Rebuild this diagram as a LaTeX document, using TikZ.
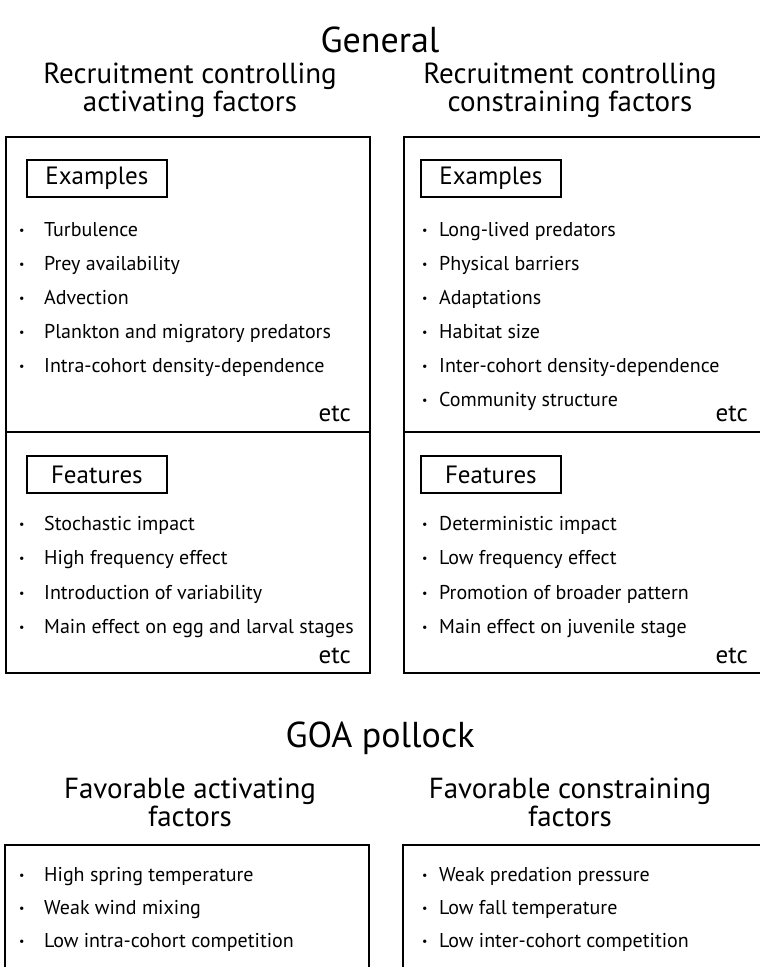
\documentclass[tikz,border=0pt]{standalone}
\usepackage{fontspec}
\setmainfont{PT Sans}
\newcommand{\dotmark}{\raisebox{1.2pt}{\fontsize{12}{12}\selectfont •}}
\newcommand{\itml}[1]{\makebox[25pt][l]{\dotmark}#1}
\newcommand{\itmr}[1]{\makebox[17pt][l]{\dotmark}#1}
\begin{document}
\begin{tikzpicture}[x=1pt,y=-1pt,
  boxline/.style={draw, line width=2pt},
  tag/.style={draw, line width=1.8pt, minimum width=140pt, minimum height=37pt, anchor=north west, inner sep=0pt, font=\fontsize{25}{28}\selectfont},
  item/.style={anchor=base west, inner sep=0pt, font=\fontsize{20}{22}\selectfont},
  etcl/.style={anchor=base east, inner sep=0pt, font=\fontsize{25}{28}\selectfont},
  head/.style={align=center, inner sep=0pt, font=\fontsize{29}{28}\selectfont},
  big/.style={inner sep=0pt, font=\fontsize{36}{40}\selectfont}]
\useasboundingbox (0,0) rectangle (760,967);
\clip (0,0) rectangle (760,967);

% ---------- General ----------
\node[big] (gen) at (380,40) {General};
\node[head] (hl) at (190,90) {Recruitment controlling\\activating factors};
\node[head] (hr) at (570,90) {Recruitment controlling\\constraining factors};

\draw[boxline] (6,137) rectangle (370,673);
\draw[boxline] (6,432) -- (370,432);
\draw[boxline] (404,137) rectangle (770,673);
\draw[boxline] (404,432) -- (770,432);

\node[tag] (exl) at (26,159) {Examples};
\node[tag] (exr) at (420,159) {Examples};
\node[tag] (ftl) at (26,455) {Features};
\node[tag] (ftr) at (420,455) {Features};

\node[item] (l1) at (19,236) {\itml{Turbulence}};
\node[item] (l2) at (19,270) {\itml{Prey availability}};
\node[item] (l3) at (19,304) {\itml{Advection}};
\node[item] (l4) at (19,338) {\itml{Plankton and migratory predators}};
\node[item] (l5) at (19,372) {\itml{Intra-cohort density-dependence}};
\node[etcl] (le1) at (351,421) {etc};

\node[item] (r1) at (422,236) {\itmr{Long-lived predators}};
\node[item] (r2) at (422,270) {\itmr{Physical barriers}};
\node[item] (r3) at (422,304) {\itmr{Adaptations}};
\node[item] (r4) at (422,338) {\itmr{Habitat size}};
\node[item] (r5) at (422,372) {\itmr{Inter-cohort density-dependence}};
\node[item] (r6) at (422,406) {\itmr{Community structure}};
\node[etcl] (re1) at (748,421) {etc};

\node[item] (f1) at (19,530) {\itml{Stochastic impact}};
\node[item] (f2) at (19,564) {\itml{High frequency effect}};
\node[item] (f3) at (19,599) {\itml{Introduction of variability}};
\node[item] (f4) at (19,633) {\itml{Main effect on egg and larval stages}};
\node[etcl] (le2) at (351,663) {etc};

\node[item] (g1) at (422,530) {\itmr{Deterministic impact}};
\node[item] (g2) at (422,564) {\itmr{Low frequency effect}};
\node[item] (g3) at (422,599) {\itmr{Promotion of broader pattern}};
\node[item] (g4) at (422,633) {\itmr{Main effect on juvenile stage}};
\node[etcl] (re2) at (748,663) {etc};

% ---------- GOA pollock ----------
\node[big] (goa) at (380,738) {GOA pollock};
\node[head] (bl) at (190,802) {Favorable activating\\factors};
\node[head] (br) at (570,802) {Favorable constraining\\factors};

\draw[boxline] (5,990) -- (5,845) -- (369,845) -- (369,990);
\draw[boxline] (403,990) -- (403,845) -- (770,845);

\node[item] (p1) at (19,881) {\itml{High spring temperature}};
\node[item] (p2) at (19,914) {\itml{Weak wind mixing}};
\node[item] (p3) at (19,947) {\itml{Low intra-cohort competition}};

\node[item] (q1) at (422,881) {\itmr{Weak predation pressure}};
\node[item] (q2) at (422,914) {\itmr{Low fall temperature}};
\node[item] (q3) at (422,947) {\itmr{Low inter-cohort competition}};
\end{tikzpicture}
\end{document}
